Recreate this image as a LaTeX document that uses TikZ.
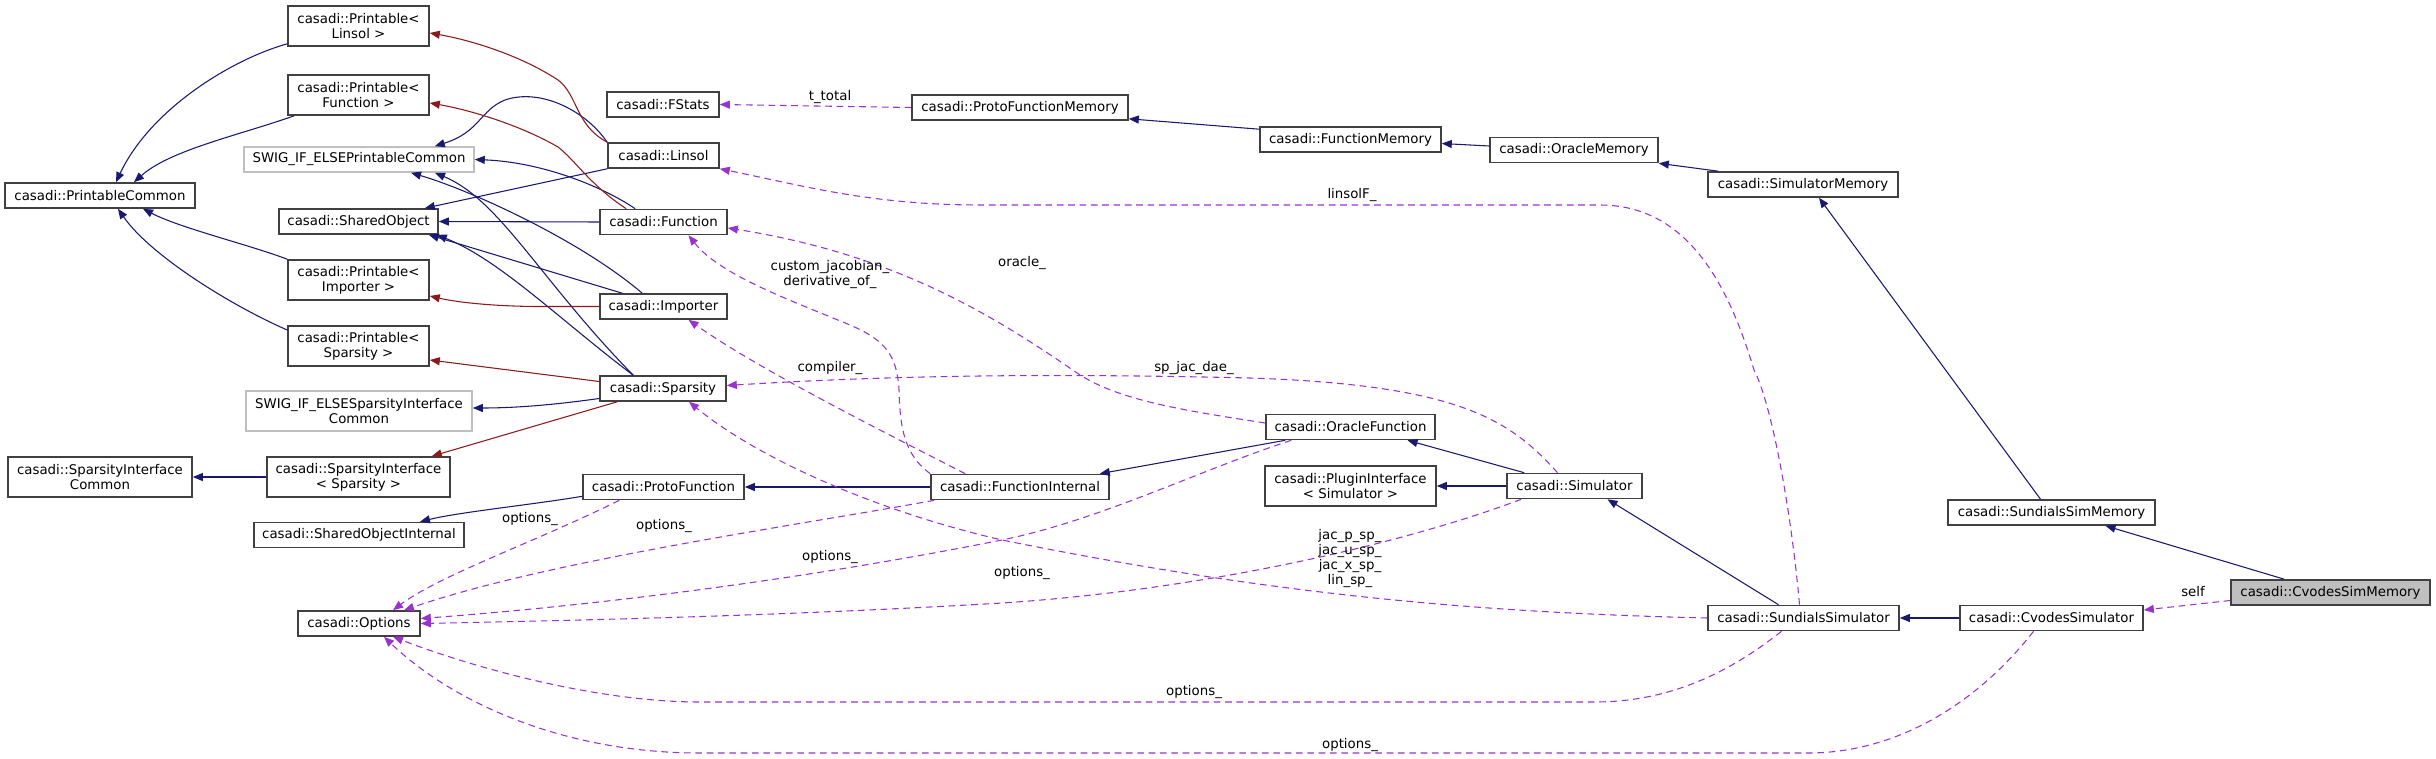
\documentclass[tikz,border=0pt]{standalone}
\usepackage{fontspec}
\setmainfont{DejaVu Sans}
\usetikzlibrary{arrows.meta,calc}
\definecolor{navyc}{HTML}{191970}
\definecolor{redc}{HTML}{8B1A1A}
\definecolor{purc}{HTML}{9A32CD}
\definecolor{boxc}{HTML}{404040}
\definecolor{swigc}{HTML}{BFBFBF}
\tikzset{
  cls/.style={draw=boxc, line width=1.2pt, fill=white, inner sep=0pt, align=center,
    minimum height=18.75pt, font=\fontsize{10}{11.25}\selectfont},
  cls2/.style={cls, minimum height=30pt},
  swig/.style={draw=swigc},
  inh/.style={draw=navyc, line width=0.8pt, -{Triangle[length=7.5pt,width=6pt]}},
  tmpl/.style={draw=redc, line width=0.8pt, -{Triangle[length=7.5pt,width=6pt]}},
  use/.style={draw=purc, line width=0.8pt, dash pattern=on 5pt off 3.5pt, -{Triangle[length=7.5pt,width=6pt]}},
  lbl/.style={inner sep=0pt, align=center, font=\fontsize{10}{11.25}\selectfont}
}
\begin{document}
\begin{tikzpicture}[x=0.75pt,y=-0.75pt]
\useasboundingbox (0,0) rectangle (2436,759);
% nodes
\node[cls2, minimum width=105.75pt] (PL) at (358.5,26) {casadi::Printable<\\Linsol >};
\node[cls2, minimum width=105.75pt] (PF) at (358.5,95) {casadi::Printable<\\Function >};
\node[cls, swig, minimum width=172.5pt] (SWPC) at (359,159.5) {SWIG\_IF\_ELSEPrintableCommon};
\node[cls, minimum width=142.5pt] (PC) at (100,195.5) {casadi::PrintableCommon};
\node[cls, minimum width=119.25pt] (SO) at (358.5,221.5) {casadi::SharedObject};
\node[cls2, minimum width=105.75pt] (PI) at (358.5,280) {casadi::Printable<\\Importer >};
\node[cls2, minimum width=105.75pt] (PS) at (358.5,346) {casadi::Printable<\\Sparsity >};
\node[cls2, swig, minimum width=169.5pt] (SWSIC) at (359,411) {SWIG\_IF\_ELSESparsityInterface\\Common};
\node[cls2, minimum width=138pt] (SIC) at (100,477) {casadi::SparsityInterface\\Common};
\node[cls2, minimum width=137.25pt] (SIS) at (358.5,477) {casadi::SparsityInterface\\< Sparsity >};
\node[cls, minimum width=157.5pt] (SOI) at (359,535) {casadi::SharedObjectInternal};
\node[cls, minimum width=91.5pt] (Options) at (359,623.5) {casadi::Options};
\node[cls, minimum width=84pt] (FStats) at (663,104.5) {casadi::FStats};
\node[cls, minimum width=83.25pt] (Linsol) at (663.5,155.5) {casadi::Linsol};
\node[cls, minimum width=95.25pt] (Function) at (663.5,222) {casadi::Function};
\node[cls, minimum width=95.25pt] (Importer) at (663.5,306.5) {casadi::Importer};
\node[cls, minimum width=94.5pt] (Sparsity) at (663,388.5) {casadi::Sparsity};
\node[cls, minimum width=120.75pt] (ProtoFunction) at (663.5,487) {casadi::ProtoFunction};
\node[cls, minimum width=133.5pt] (FI) at (1020,487) {casadi::FunctionInternal};
\node[cls, minimum width=162pt] (PFM) at (1020,107.5) {casadi::ProtoFunctionMemory};
\node[cls, minimum width=135.75pt] (FM) at (1350.5,139.5) {casadi::FunctionMemory};
\node[cls, minimum width=126pt] (OM) at (1574,150) {casadi::OracleMemory};
\node[cls, minimum width=142.5pt] (SimM) at (1803,184.5) {casadi::SimulatorMemory};
\node[cls, minimum width=126.75pt] (OF) at (1350.5,427) {casadi::OracleFunction};
\node[cls2, minimum width=128.25pt] (PlugI) at (1350.5,486) {casadi::PluginInterface\\< Simulator >};
\node[cls, minimum width=101.25pt] (Sim) at (1574.5,486) {casadi::Simulator};
\node[cls, minimum width=143.25pt] (SS) at (1803.5,618) {casadi::SundialsSimulator};
\node[cls, minimum width=155.25pt] (SSM) at (2051.5,512.5) {casadi::SundialsSimMemory};
\node[cls, minimum width=137.25pt] (CS) at (2051.5,618) {casadi::CvodesSimulator};
\node[cls, minimum width=149.25pt, fill=swigc] (CSM) at (2330.5,592.5) {casadi::CvodesSimMemory};
% inheritance
\draw[inh] ($(PL.south west)+(0,-3)$) .. controls (230,60) and (150,110) .. ($(PC.north)+(16,0)$);
\draw[inh] ($(PF.south west)+(7,0)$) .. controls (240,135) and (170,150) .. ($(PC.north)+(34,0)$);
\draw[inh] (PI.north west) .. controls (250,245) and (180,228) .. ($(PC.south)+(43,0)$);
\draw[inh] ($(PS.west)+(0,-16)$) .. controls (230,305) and (150,255) .. ($(PC.south)+(18,0)$);
\draw[inh] (Linsol.north west) .. controls (585,110) and (540,88) .. (505,100) .. controls (480,110) and (480,132) .. ($(SWPC.north east)+(-40,0)$);
\draw[inh] (Linsol.south west) -- ($(SO.north east)+(-14,0)$);
\draw[inh] ($(Function.north west)+(36,0)$) .. controls (600,185) and (540,162) .. (SWPC.east);
\draw[inh] (Function.west) -- (SO.east);
\draw[inh] ($(Importer.north west)+(43,0)$) .. controls (580,240) and (470,190) .. ($(SWPC.south)+(52,0)$);
\draw[inh] ($(Importer.north west)+(23,0)$) -- ($(SO.south east)+(-10,0)$);
\draw[inh] ($(Sparsity.north west)+(34,0)$) .. controls (540,280) and (500,200) .. ($(SWPC.south)+(76,0)$);
\draw[inh] ($(Sparsity.north west)+(34,0)$) .. controls (560,320) and (500,260) .. ($(SO.south east)+(-2,0)$);
\draw[inh] ($(Sparsity.west)+(0,10)$) .. controls (560,404) and (520,408) .. ($(SWSIC.east)+(0,-3)$);
\draw[inh] (SIS.west) -- (SIC.east);
\draw[inh] ($(ProtoFunction.south west)+(0,-4)$) .. controls (530,505) and (460,512) .. ($(SOI.north)+(61,0)$);
\draw[inh] (FI.west) -- (ProtoFunction.east);
\draw[inh] ($(OF.south west)+(20,0)$) -- ($(FI.north east)+(-10,0)$);
\draw[inh] ($(Sim.north west)+(18,0)$) -- ($(OF.south)+(57,0)$);
\draw[inh] (Sim.west) -- (PlugI.east);
\draw[inh] ($(SS.north)+(-25,0)$) -- ($(Sim.south)+(33,0)$);
\draw[inh] (CS.west) -- (SS.east);
\draw[inh] ($(FM.north west)+(0,3)$) -- ($(PFM.south east)+(0,-2)$);
\draw[inh] ($(OM.west)+(0,-4)$) -- ($(FM.east)+(0,4)$);
\draw[inh] ($(SimM.north west)+(11,0)$) -- (OM.south east);
\draw[inh] ($(SSM.north)+(-11,0)$) -- ($(SimM.south)+(16,0)$);
\draw[inh] ($(CSM.north west)+(54,0)$) -- ($(SSM.south)+(54,0)$);
% template instantiation
\draw[tmpl] (Linsol.north west) .. controls (575,125) and (578,95) .. (558,80) .. controls (520,55) and (470,40) .. ($(PL.east)+(0,7)$);
\draw[tmpl] ($(Function.north west)+(27,0)$) .. controls (590,185) and (575,160) .. (558,147) .. controls (520,125) and (470,110) .. ($(PF.east)+(0,8)$);
\draw[tmpl] (Importer.west) -- (540,306.5) .. controls (500,306.5) and (460,303) .. ($(PI.east)+(0,16)$);
\draw[tmpl] ($(Sparsity.west)+(0,-7)$) -- ($(PS.east)+(0,14)$);
\draw[tmpl] ($(Sparsity.south west)+(18,0)$) -- ($(SIS.north east)+(-19,0)$);
% usage
\draw[use] (PFM.west) -- (FStats.east);
\draw[use] ($(SS.north)+(-4,0)$) .. controls (1790,500) and (1770,400) .. (1754,370) .. controls (1730,290) and (1690,205) .. (1600,205) -- (980,205) .. controls (870,205) and (800,185) .. (Linsol.south east);
\draw[use] ($(OF.west)+(0,-4)$) .. controls (1180,410) and (1120,400) .. (1080,375) .. controls (1000,320) and (900,255) .. ($(Function.east)+(0,6)$);
\draw[use] (FI.north west) .. controls (905,455) and (900,430) .. (899,390) .. controls (897,355) and (885,340) .. (850,325) .. controls (790,300) and (720,275) .. ($(Function.south)+(25,0)$);
\draw[use] ($(FI.north west)+(35,0)$) .. controls (880,430) and (760,370) .. ($(Importer.south)+(25,0)$);
\draw[use] ($(Sim.north)+(-17,0)$) .. controls (1510,420) and (1460,385) .. (1250,378) .. controls (1000,372) and (850,378) .. ($(Sparsity.east)+(0,-3)$);
\draw[use] (SS.west) .. controls (1450,612) and (1250,590) .. (1002,540) .. controls (880,512) and (760,460) .. ($(Sparsity.south)+(26,0)$);
\draw[use] ($(ProtoFunction.south west)+(37,0)$) .. controls (540,540) and (440,575) .. ($(Options.north)+(34,0)$);
\draw[use] ($(FI.south west)+(4,0)$) .. controls (800,525) and (550,560) .. ($(Options.north)+(45,0)$);
\draw[use] ($(OF.south west)+(26,0)$) .. controls (1200,470) and (1100,520) .. (1002,540) .. controls (800,580) and (600,605) .. ($(Options.east)+(0,-5)$);
\draw[use] ($(Sim.south west)+(15,0)$) .. controls (1400,545) and (1200,590) .. (1002,603) .. controls (800,615) and (600,620) .. (Options.east);
\draw[use] ($(SS.south)+(-22,0)$) .. controls (1720,680) and (1660,702) .. (1594,702) -- (700,702) .. controls (600,702) and (480,670) .. ($(Options.south)+(34,0)$);
\draw[use] ($(CS.south)+(-18,0)$) .. controls (1980,700) and (1900,753) .. (1808,753) -- (700,753) .. controls (560,753) and (450,700) .. ($(Options.south)+(25,0)$);
\draw[use] ($(CSM.west)+(0,8)$) -- ($(CS.east)+(0,-8)$);
% labels
\node[lbl] (l1) at (830,97) {t\_total};
\node[lbl] (l2) at (1352,195) {linsolF\_};
\node[lbl] (l3) at (1022,263) {oracle\_};
\node[lbl] (l4) at (830,274.5) {custom\_jacobian\_\\derivative\_of\_};
\node[lbl] (l5) at (830,368) {compiler\_};
\node[lbl] (l6) at (1194,368) {sp\_jac\_dae\_};
\node[lbl] (l7) at (530,519) {options\_};
\node[lbl] (l8) at (664,526) {options\_};
\node[lbl] (l9) at (830,557) {options\_};
\node[lbl] (l10) at (1022,573) {options\_};
\node[lbl] (l11) at (1350,558.5) {jac\_p\_sp\_\\jac\_u\_sp\_\\jac\_x\_sp\_\\lin\_sp\_};
\node[lbl] (l12) at (1194,692) {options\_};
\node[lbl] (l13) at (1350,745) {options\_};
\node[lbl] (l14) at (2193,592) {self};
\end{tikzpicture}
\end{document}
